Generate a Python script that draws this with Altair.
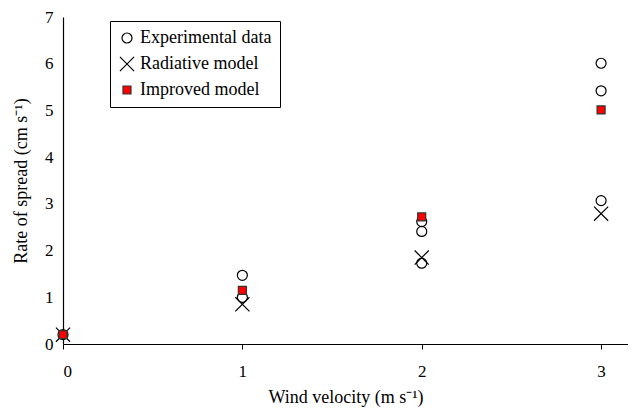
import altair as alt
import pandas as pd

series_names = ["Experimental data", "Radiative model", "Improved model"]

exp_x = [0, 1, 1, 2, 2, 2, 3, 3, 3]
exp_y = [0.2, 1.47, 1.0, 2.62, 2.41, 1.73, 6.01, 5.42, 3.07]

rad_x = [0, 1, 2, 3]
rad_y = [0.2, 0.85, 1.85, 2.79]

imp_x = [0, 1, 2, 3]
imp_y = [0.2, 1.15, 2.72, 5.01]

rows = []
for x, y in zip(exp_x, exp_y):
    rows.append({"x": x, "y": y, "s": series_names[0]})
for x, y in zip(rad_x, rad_y):
    rows.append({"x": x, "y": y, "s": series_names[1]})
for x, y in zip(imp_x, imp_y):
    rows.append({"x": x, "y": y, "s": series_names[2]})
df = pd.DataFrame(rows)
df["o"] = range(len(df))

FONT = "Liberation Serif"
xpath = "M-1,-1L1,1M-1,1L1,-1"

leg = alt.Legend(
    title=None, orient="none", legendX=47, legendY=4,
    strokeColor="black", fillColor="white", padding=8,
    labelFont=FONT, labelFontSize=18, labelColor="black",
    rowPadding=7, symbolStrokeWidth=1.2, labelOffset=4,
)

chart = alt.Chart(df).mark_point(strokeWidth=1.2, opacity=1).encode(
    x=alt.X("x:Q", scale=alt.Scale(domain=[0, 3.15], nice=False),
            axis=alt.Axis(values=[0, 1, 2, 3], title="Wind velocity (m s⁻¹)",
                          format="d")),
    y=alt.Y("y:Q", scale=alt.Scale(domain=[0, 7], nice=False),
            axis=alt.Axis(values=[0, 1, 2, 3, 4, 5, 6, 7], ticks=False,
                          title="Rate of spread (cm s⁻¹)", format="d")),
    shape=alt.Shape("s:N", scale=alt.Scale(domain=series_names,
                                           range=["circle", xpath, "square"]), legend=leg),
    fill=alt.Fill("s:N", scale=alt.Scale(domain=series_names,
                                         range=["transparent", "transparent", "#ff0000"]), legend=leg),
    stroke=alt.Stroke("s:N", scale=alt.Scale(domain=series_names,
                                             range=["black", "black", "#333333"]), legend=leg),
    size=alt.Size("s:N", scale=alt.Scale(type="ordinal", domain=series_names,
                                         range=[100, 200, 64]), legend=leg),
    order=alt.Order("o:Q"),
).properties(
    width=565, height=327,
    autosize=alt.AutoSizeParams(type="none"),
    padding={"left": 55, "top": 9, "right": 0, "bottom": 72},
).configure_view(stroke=None).configure_axis(
    grid=False, domainColor="black", tickColor="black", tickSize=5,
    labelFont=FONT, labelFontSize=17, labelColor="black",
    titleFont=FONT, titleFontSize=18, titleFontWeight="normal", titleColor="black",
    domainWidth=1.2, tickWidth=1,
).configure_axisX(labelPadding=14, titlePadding=9).configure_axisY(labelPadding=10, titlePadding=14)

chart.save("out.html", embed_options={"renderer": "svg", "actions": False})
